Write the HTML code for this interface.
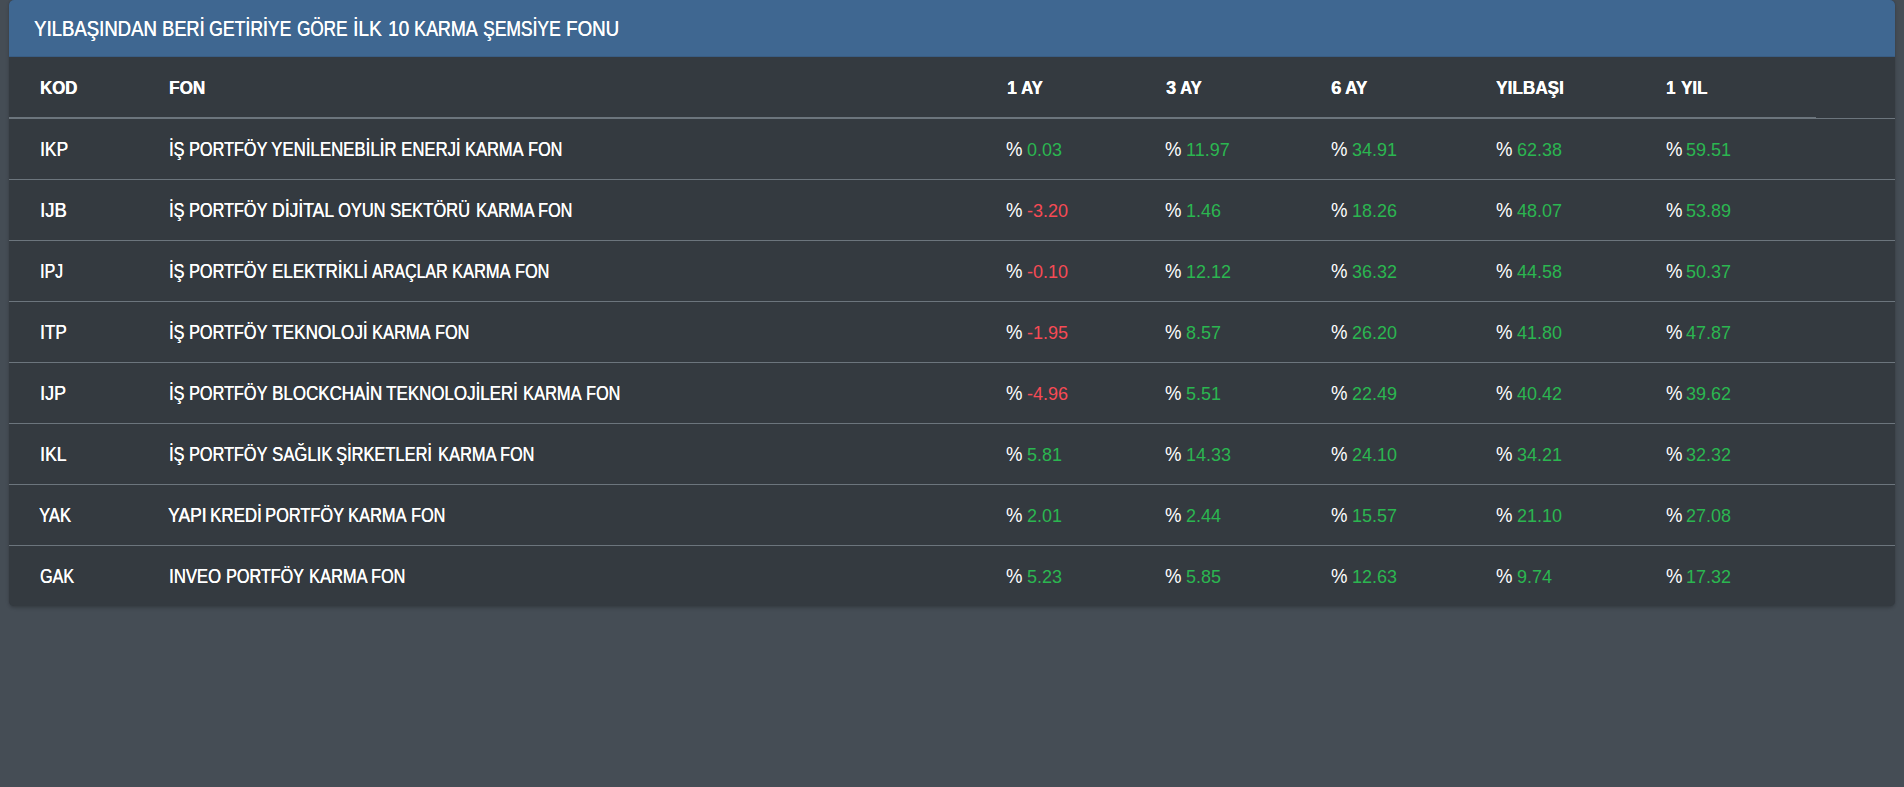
<!DOCTYPE html>
<html lang="tr"><head><meta charset="utf-8"><title>Karma Şemsiye Fonları</title><style>

html,body{margin:0;padding:0}
body{width:1904px;height:787px;overflow:hidden;background:#454d55;font-family:"Liberation Sans",sans-serif;position:relative}
.card{position:absolute;left:9px;top:0;width:1886px;height:606px;background:#343a40;border-radius:5px;box-shadow:0 0 1.25px rgba(0,0,0,.125),0 1.25px 3.75px rgba(0,0,0,.2)}
.hd{position:absolute;left:0;top:0;right:0;height:56px;background:#3f6791;border-radius:5px 5px 0 0;border-bottom:1px solid #395d84}
.ln{position:absolute;left:0;right:0;height:1px;background:#6c757d}
.ln2{position:absolute;left:0;width:1807px;height:2px;background:#6c757d}
.x{position:absolute;white-space:nowrap;transform-origin:0 0;color:#fff;line-height:1;font-size:20.35px;text-shadow:0.35px 0 0 currentColor}
.title{font-size:21.85px}
.th{font-weight:700;font-size:19.2px}
.pc{text-shadow:none}
.pos{color:#2bb650;font-size:19.0px;text-shadow:none}
.neg{color:#f74a55;font-size:19.0px;text-shadow:none}

</style></head><body>
<div class="card"><div class="hd"></div>
<div class="ln2" style="top:117px"></div>
<div class="ln" style="top:118px"></div>
<div class="ln" style="top:179px"></div>
<div class="ln" style="top:240px"></div>
<div class="ln" style="top:301px"></div>
<div class="ln" style="top:362px"></div>
<div class="ln" style="top:423px"></div>
<div class="ln" style="top:484px"></div>
<div class="ln" style="top:545px"></div>
</div>
<span class="x title" style="left:34.29px;top:17.50px;transform:scaleX(0.8498)">YILBAŞINDAN</span>
<span class="x title" style="left:161.80px;top:17.50px;transform:scaleX(0.8341)">BERİ</span>
<span class="x title" style="left:209.41px;top:17.50px;transform:scaleX(0.8071)">GETİRİYE</span>
<span class="x title" style="left:296.94px;top:17.50px;transform:scaleX(0.7826)">GÖRE</span>
<span class="x title" style="left:352.74px;top:17.50px;transform:scaleX(0.8728)">İLK</span>
<span class="x title" style="left:387.65px;top:17.50px;transform:scaleX(0.8695)">10</span>
<span class="x title" style="left:413.53px;top:17.50px;transform:scaleX(0.8180)">KARMA</span>
<span class="x title" style="left:483.41px;top:17.50px;transform:scaleX(0.7989)">ŞEMSİYE</span>
<span class="x title" style="left:566.26px;top:17.50px;transform:scaleX(0.8568)">FONU</span>
<span class="x th" style="left:40.18px;top:77.75px;transform:scaleX(0.8718)">KOD</span>
<span class="x th" style="left:169.45px;top:77.75px;transform:scaleX(0.8923)">FON</span>
<span class="x th" style="left:1006.50px;top:77.75px;transform:scaleX(0.9128)">1</span>
<span class="x th" style="left:1021.38px;top:77.75px;transform:scaleX(0.8728)">AY</span>
<span class="x th" style="left:1165.99px;top:77.75px;transform:scaleX(0.9384)">3</span>
<span class="x th" style="left:1180.08px;top:77.75px;transform:scaleX(0.8686)">AY</span>
<span class="x th" style="left:1330.72px;top:77.75px;transform:scaleX(0.9650)">6</span>
<span class="x th" style="left:1345.47px;top:77.75px;transform:scaleX(0.8935)">AY</span>
<span class="x th" style="left:1495.51px;top:77.75px;transform:scaleX(0.8955)">YILBAŞI</span>
<span class="x th" style="left:1665.94px;top:77.75px;transform:scaleX(0.8792)">1</span>
<span class="x th" style="left:1680.51px;top:77.75px;transform:scaleX(0.8828)">YIL</span>
<span class="x td" style="left:39.70px;top:138.77px;transform:scaleX(0.8527)">IKP</span>
<span class="x td" style="left:169.01px;top:138.77px;transform:scaleX(0.7946)">İŞ</span>
<span class="x td" style="left:189.07px;top:138.77px;transform:scaleX(0.7986)">PORTFÖY</span>
<span class="x td" style="left:271.03px;top:138.77px;transform:scaleX(0.8280)">YENİLENEBİLİR</span>
<span class="x td" style="left:400.53px;top:138.77px;transform:scaleX(0.8218)">ENERJİ</span>
<span class="x td" style="left:465.45px;top:138.77px;transform:scaleX(0.8061)">KARMA</span>
<span class="x td" style="left:528.12px;top:138.77px;transform:scaleX(0.7962)">FON</span>
<span class="x td pc" style="left:1006.44px;top:138.77px;transform:scaleX(0.9103)">%</span>
<span class="x td pos" style="left:1027.10px;top:139.92px;transform:scaleX(0.9463)">0.03</span>
<span class="x td pc" style="left:1165.14px;top:138.77px;transform:scaleX(0.9103)">%</span>
<span class="x td pos" style="left:1185.80px;top:139.92px;transform:scaleX(0.9463)">11.97</span>
<span class="x td pc" style="left:1331.04px;top:138.77px;transform:scaleX(0.9103)">%</span>
<span class="x td pos" style="left:1351.70px;top:139.92px;transform:scaleX(0.9463)">34.91</span>
<span class="x td pc" style="left:1496.04px;top:138.77px;transform:scaleX(0.9103)">%</span>
<span class="x td pos" style="left:1516.70px;top:139.92px;transform:scaleX(0.9463)">62.38</span>
<span class="x td pc" style="left:1665.54px;top:138.77px;transform:scaleX(0.9103)">%</span>
<span class="x td pos" style="left:1686.20px;top:139.92px;transform:scaleX(0.9463)">59.51</span>
<span class="x td" style="left:39.60px;top:199.77px;transform:scaleX(0.9053)">IJB</span>
<span class="x td" style="left:169.01px;top:199.77px;transform:scaleX(0.7946)">İŞ</span>
<span class="x td" style="left:189.07px;top:199.77px;transform:scaleX(0.7986)">PORTFÖY</span>
<span class="x td" style="left:272.17px;top:199.77px;transform:scaleX(0.8596)">DİJİTAL</span>
<span class="x td" style="left:338.37px;top:199.77px;transform:scaleX(0.8067)">OYUN</span>
<span class="x td" style="left:390.25px;top:199.77px;transform:scaleX(0.8133)">SEKTÖRÜ</span>
<span class="x td" style="left:475.55px;top:199.77px;transform:scaleX(0.8061)">KARMA</span>
<span class="x td" style="left:538.22px;top:199.77px;transform:scaleX(0.7962)">FON</span>
<span class="x td pc" style="left:1006.44px;top:199.77px;transform:scaleX(0.9103)">%</span>
<span class="x td neg" style="left:1027.10px;top:200.92px;transform:scaleX(0.9463)">-3.20</span>
<span class="x td pc" style="left:1165.14px;top:199.77px;transform:scaleX(0.9103)">%</span>
<span class="x td pos" style="left:1185.80px;top:200.92px;transform:scaleX(0.9463)">1.46</span>
<span class="x td pc" style="left:1331.04px;top:199.77px;transform:scaleX(0.9103)">%</span>
<span class="x td pos" style="left:1351.70px;top:200.92px;transform:scaleX(0.9463)">18.26</span>
<span class="x td pc" style="left:1496.04px;top:199.77px;transform:scaleX(0.9103)">%</span>
<span class="x td pos" style="left:1516.70px;top:200.92px;transform:scaleX(0.9463)">48.07</span>
<span class="x td pc" style="left:1665.54px;top:199.77px;transform:scaleX(0.9103)">%</span>
<span class="x td pos" style="left:1686.20px;top:200.92px;transform:scaleX(0.9463)">53.89</span>
<span class="x td" style="left:39.83px;top:260.77px;transform:scaleX(0.7822)">IPJ</span>
<span class="x td" style="left:169.01px;top:260.77px;transform:scaleX(0.7946)">İŞ</span>
<span class="x td" style="left:189.07px;top:260.77px;transform:scaleX(0.7986)">PORTFÖY</span>
<span class="x td" style="left:271.51px;top:260.77px;transform:scaleX(0.8302)">ELEKTRİKLİ</span>
<span class="x td" style="left:371.62px;top:260.77px;transform:scaleX(0.7863)">ARAÇLAR</span>
<span class="x td" style="left:452.45px;top:260.77px;transform:scaleX(0.8061)">KARMA</span>
<span class="x td" style="left:515.12px;top:260.77px;transform:scaleX(0.7962)">FON</span>
<span class="x td pc" style="left:1006.44px;top:260.77px;transform:scaleX(0.9103)">%</span>
<span class="x td neg" style="left:1027.10px;top:261.92px;transform:scaleX(0.9463)">-0.10</span>
<span class="x td pc" style="left:1165.14px;top:260.77px;transform:scaleX(0.9103)">%</span>
<span class="x td pos" style="left:1185.80px;top:261.92px;transform:scaleX(0.9463)">12.12</span>
<span class="x td pc" style="left:1331.04px;top:260.77px;transform:scaleX(0.9103)">%</span>
<span class="x td pos" style="left:1351.70px;top:261.92px;transform:scaleX(0.9463)">36.32</span>
<span class="x td pc" style="left:1496.04px;top:260.77px;transform:scaleX(0.9103)">%</span>
<span class="x td pos" style="left:1516.70px;top:261.92px;transform:scaleX(0.9463)">44.58</span>
<span class="x td pc" style="left:1665.54px;top:260.77px;transform:scaleX(0.9103)">%</span>
<span class="x td pos" style="left:1686.20px;top:261.92px;transform:scaleX(0.9463)">50.37</span>
<span class="x td" style="left:39.72px;top:321.77px;transform:scaleX(0.8413)">ITP</span>
<span class="x td" style="left:169.01px;top:321.77px;transform:scaleX(0.7946)">İŞ</span>
<span class="x td" style="left:189.07px;top:321.77px;transform:scaleX(0.7986)">PORTFÖY</span>
<span class="x td" style="left:271.76px;top:321.77px;transform:scaleX(0.8450)">TEKNOLOJİ</span>
<span class="x td" style="left:372.05px;top:321.77px;transform:scaleX(0.8061)">KARMA</span>
<span class="x td" style="left:434.72px;top:321.77px;transform:scaleX(0.7962)">FON</span>
<span class="x td pc" style="left:1006.44px;top:321.77px;transform:scaleX(0.9103)">%</span>
<span class="x td neg" style="left:1027.10px;top:322.92px;transform:scaleX(0.9463)">-1.95</span>
<span class="x td pc" style="left:1165.14px;top:321.77px;transform:scaleX(0.9103)">%</span>
<span class="x td pos" style="left:1185.80px;top:322.92px;transform:scaleX(0.9463)">8.57</span>
<span class="x td pc" style="left:1331.04px;top:321.77px;transform:scaleX(0.9103)">%</span>
<span class="x td pos" style="left:1351.70px;top:322.92px;transform:scaleX(0.9463)">26.20</span>
<span class="x td pc" style="left:1496.04px;top:321.77px;transform:scaleX(0.9103)">%</span>
<span class="x td pos" style="left:1516.70px;top:322.92px;transform:scaleX(0.9463)">41.80</span>
<span class="x td pc" style="left:1665.54px;top:321.77px;transform:scaleX(0.9103)">%</span>
<span class="x td pos" style="left:1686.20px;top:322.92px;transform:scaleX(0.9463)">47.87</span>
<span class="x td" style="left:39.65px;top:382.77px;transform:scaleX(0.8788)">IJP</span>
<span class="x td" style="left:169.01px;top:382.77px;transform:scaleX(0.7946)">İŞ</span>
<span class="x td" style="left:189.07px;top:382.77px;transform:scaleX(0.7986)">PORTFÖY</span>
<span class="x td" style="left:271.51px;top:382.77px;transform:scaleX(0.8322)">BLOCKCHAİN</span>
<span class="x td" style="left:386.27px;top:382.77px;transform:scaleX(0.8323)">TEKNOLOJİLERİ</span>
<span class="x td" style="left:523.25px;top:382.77px;transform:scaleX(0.8061)">KARMA</span>
<span class="x td" style="left:585.92px;top:382.77px;transform:scaleX(0.7962)">FON</span>
<span class="x td pc" style="left:1006.44px;top:382.77px;transform:scaleX(0.9103)">%</span>
<span class="x td neg" style="left:1027.10px;top:383.92px;transform:scaleX(0.9463)">-4.96</span>
<span class="x td pc" style="left:1165.14px;top:382.77px;transform:scaleX(0.9103)">%</span>
<span class="x td pos" style="left:1185.80px;top:383.92px;transform:scaleX(0.9463)">5.51</span>
<span class="x td pc" style="left:1331.04px;top:382.77px;transform:scaleX(0.9103)">%</span>
<span class="x td pos" style="left:1351.70px;top:383.92px;transform:scaleX(0.9463)">22.49</span>
<span class="x td pc" style="left:1496.04px;top:382.77px;transform:scaleX(0.9103)">%</span>
<span class="x td pos" style="left:1516.70px;top:383.92px;transform:scaleX(0.9463)">40.42</span>
<span class="x td pc" style="left:1665.54px;top:382.77px;transform:scaleX(0.9103)">%</span>
<span class="x td pos" style="left:1686.20px;top:383.92px;transform:scaleX(0.9463)">39.62</span>
<span class="x td" style="left:39.68px;top:443.77px;transform:scaleX(0.8627)">IKL</span>
<span class="x td" style="left:169.01px;top:443.77px;transform:scaleX(0.7946)">İŞ</span>
<span class="x td" style="left:189.07px;top:443.77px;transform:scaleX(0.7986)">PORTFÖY</span>
<span class="x td" style="left:271.54px;top:443.77px;transform:scaleX(0.8203)">SAĞLIK</span>
<span class="x td" style="left:336.40px;top:443.77px;transform:scaleX(0.8070)">ŞİRKETLERİ</span>
<span class="x td" style="left:437.65px;top:443.77px;transform:scaleX(0.8061)">KARMA</span>
<span class="x td" style="left:500.32px;top:443.77px;transform:scaleX(0.7962)">FON</span>
<span class="x td pc" style="left:1006.44px;top:443.77px;transform:scaleX(0.9103)">%</span>
<span class="x td pos" style="left:1027.10px;top:444.92px;transform:scaleX(0.9463)">5.81</span>
<span class="x td pc" style="left:1165.14px;top:443.77px;transform:scaleX(0.9103)">%</span>
<span class="x td pos" style="left:1185.80px;top:444.92px;transform:scaleX(0.9463)">14.33</span>
<span class="x td pc" style="left:1331.04px;top:443.77px;transform:scaleX(0.9103)">%</span>
<span class="x td pos" style="left:1351.70px;top:444.92px;transform:scaleX(0.9463)">24.10</span>
<span class="x td pc" style="left:1496.04px;top:443.77px;transform:scaleX(0.9103)">%</span>
<span class="x td pos" style="left:1516.70px;top:444.92px;transform:scaleX(0.9463)">34.21</span>
<span class="x td pc" style="left:1665.54px;top:443.77px;transform:scaleX(0.9103)">%</span>
<span class="x td pos" style="left:1686.20px;top:444.92px;transform:scaleX(0.9463)">32.32</span>
<span class="x td" style="left:39.24px;top:504.77px;transform:scaleX(0.8137)">YAK</span>
<span class="x td" style="left:167.62px;top:504.77px;transform:scaleX(0.8570)">YAPI</span>
<span class="x td" style="left:209.76px;top:504.77px;transform:scaleX(0.8305)">KREDİ</span>
<span class="x td" style="left:264.56px;top:504.77px;transform:scaleX(0.8049)">PORTFÖY</span>
<span class="x td" style="left:348.05px;top:504.77px;transform:scaleX(0.8061)">KARMA</span>
<span class="x td" style="left:410.72px;top:504.77px;transform:scaleX(0.7962)">FON</span>
<span class="x td pc" style="left:1006.44px;top:504.77px;transform:scaleX(0.9103)">%</span>
<span class="x td pos" style="left:1027.10px;top:505.92px;transform:scaleX(0.9463)">2.01</span>
<span class="x td pc" style="left:1165.14px;top:504.77px;transform:scaleX(0.9103)">%</span>
<span class="x td pos" style="left:1185.80px;top:505.92px;transform:scaleX(0.9463)">2.44</span>
<span class="x td pc" style="left:1331.04px;top:504.77px;transform:scaleX(0.9103)">%</span>
<span class="x td pos" style="left:1351.70px;top:505.92px;transform:scaleX(0.9463)">15.57</span>
<span class="x td pc" style="left:1496.04px;top:504.77px;transform:scaleX(0.9103)">%</span>
<span class="x td pos" style="left:1516.70px;top:505.92px;transform:scaleX(0.9463)">21.10</span>
<span class="x td pc" style="left:1665.54px;top:504.77px;transform:scaleX(0.9103)">%</span>
<span class="x td pos" style="left:1686.20px;top:505.92px;transform:scaleX(0.9463)">27.08</span>
<span class="x td" style="left:39.59px;top:565.77px;transform:scaleX(0.7899)">GAK</span>
<span class="x td" style="left:169.06px;top:565.77px;transform:scaleX(0.8204)">INVEO</span>
<span class="x td" style="left:225.97px;top:565.77px;transform:scaleX(0.7945)">PORTFÖY</span>
<span class="x td" style="left:308.80px;top:565.77px;transform:scaleX(0.8061)">KARMA</span>
<span class="x td" style="left:371.47px;top:565.77px;transform:scaleX(0.7962)">FON</span>
<span class="x td pc" style="left:1006.44px;top:565.77px;transform:scaleX(0.9103)">%</span>
<span class="x td pos" style="left:1027.10px;top:566.92px;transform:scaleX(0.9463)">5.23</span>
<span class="x td pc" style="left:1165.14px;top:565.77px;transform:scaleX(0.9103)">%</span>
<span class="x td pos" style="left:1185.80px;top:566.92px;transform:scaleX(0.9463)">5.85</span>
<span class="x td pc" style="left:1331.04px;top:565.77px;transform:scaleX(0.9103)">%</span>
<span class="x td pos" style="left:1351.70px;top:566.92px;transform:scaleX(0.9463)">12.63</span>
<span class="x td pc" style="left:1496.04px;top:565.77px;transform:scaleX(0.9103)">%</span>
<span class="x td pos" style="left:1516.70px;top:566.92px;transform:scaleX(0.9463)">9.74</span>
<span class="x td pc" style="left:1665.54px;top:565.77px;transform:scaleX(0.9103)">%</span>
<span class="x td pos" style="left:1686.20px;top:566.92px;transform:scaleX(0.9463)">17.32</span>
</body></html>
